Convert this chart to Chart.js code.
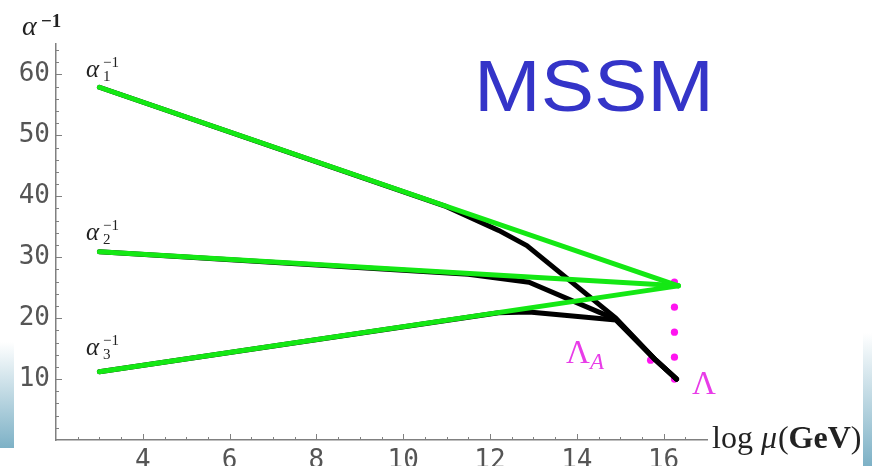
<!DOCTYPE html>
<html>
<head>
<meta charset="utf-8">
<script src="https://cdn.jsdelivr.net/npm/chart.js@4/dist/chart.umd.min.js"></script>
<style>
  html, body { margin: 0; padding: 0; background: #fff; overflow: hidden; }
  #wrap { position: relative; width: 872px; height: 466px; overflow: hidden; }
  canvas { display: block; }
  .strip { position: absolute; background: linear-gradient(to bottom, #ffffff, #7db1c6); }
</style>
</head>
<body>
<div id="wrap">
  <canvas id="mssm" width="872" height="490"></canvas>
  <div class="strip" style="left:0;top:342px;width:14px;height:106px"></div>
  <div class="strip" style="left:863px;top:333px;width:9px;height:133px"></div>
</div>
<script>
// running couplings, one-loop MSSM (green) and with extra threshold (black)
var muEnds = [3, 16.34];
var inv1Green = [57.9, 25.3];
var inv2Green = [30.9, 25.3];
var inv3Green = [11.2, 25.3];

var mu1Black = [3, 11.0, 12.2, 12.85, 14.9, 15.82, 16.3];
var inv1Black = [57.9, 38.3, 34.4, 31.9, 20.0, 13.1, 10.0];
var mu2Black = [3, 11.5, 12.9, 14.9, 15.82, 16.3];
var inv2Black = [30.9, 27.2, 25.9, 19.8, 13.1, 10.0];
var mu3Black = [3, 12.2, 12.9, 14.9, 15.82, 16.3];
var inv3Black = [11.2, 20.9, 21.0, 19.7, 13.1, 10.0];

var dotMu = [15.7, 16.25, 16.25, 16.25, 16.25, 16.25];
var dotInv = [13.1, 25.9, 21.8, 17.7, 13.6, 10.0];

var xTicks = [4, 6, 8, 10, 12, 14, 16];
var yTicks = [10, 20, 30, 40, 50, 60];

function pts(xs, ys) {
  var out = [];
  for (var i = 0; i < xs.length; i++) out.push({x: xs[i], y: ys[i]});
  return out;
}

var GREEN = '#14e814';
var BLACK = '#000000';

function lineSet(data, color, w, order) {
  return {
    data: data, showLine: true, borderColor: color, backgroundColor: color,
    borderWidth: w, pointRadius: 0, borderJoinStyle: 'round', borderCapStyle: 'round',
    tension: 0, order: order
  };
}

// inward frame ticks + all the math labels
var decor = {
  id: 'decor',
  afterDatasetsDraw: function(chart) {
    var ctx = chart.ctx, xs = chart.scales.x, ys = chart.scales.y;
    ctx.save();
    ctx.strokeStyle = '#808080';
    ctx.lineWidth = 1;
    var v, p, len;
    for (v = 2.5; v < 17; v += 0.5) {
      p = Math.round(xs.getPixelForValue(v)) + 0.5;
      len = (v % 2 === 0) ? 6 : 3;
      ctx.beginPath(); ctx.moveTo(p, ys.bottom); ctx.lineTo(p, ys.bottom - len); ctx.stroke();
    }
    for (v = 2; v <= 64; v += 2) {
      p = Math.round(ys.getPixelForValue(v)) + 0.5;
      len = (v % 10 === 0) ? 6 : 3;
      ctx.beginPath(); ctx.moveTo(xs.left, p); ctx.lineTo(xs.left + len, p); ctx.stroke();
    }

    ctx.textBaseline = 'alphabetic';
    ctx.textAlign = 'left';
    ctx.fillStyle = '#222';
    var serif = '"Liberation Serif", "DejaVu Serif", serif';

    // axis titles
    ctx.font = 'italic 28px ' + serif;
    ctx.fillText('\u03b1', 22, 35);
    ctx.font = 'bold 19px ' + serif;
    ctx.fillText('\u22121', 41, 27);

    ctx.font = '32px ' + serif;
    var x0 = 712;
    ctx.fillText('log', x0, 448);
    x0 += ctx.measureText('log ').width;
    ctx.font = 'italic 32px ' + serif;
    ctx.fillText('\u03bc', x0, 448);
    x0 += ctx.measureText('\u03bc').width + 1;
    ctx.font = '32px ' + serif;
    ctx.fillText('(', x0, 448);
    x0 += ctx.measureText('(').width;
    ctx.font = 'bold 32px ' + serif;
    ctx.fillText('GeV', x0, 448);
    x0 += ctx.measureText('GeV').width;
    ctx.font = '32px ' + serif;
    ctx.fillText(')', x0, 448);

    // curve labels
    var labs = [['1', 77], ['2', 240], ['3', 355]];
    labs.forEach(function(l) {
      ctx.font = 'italic 25px ' + serif;
      ctx.fillText('\u03b1', 86, l[1]);
      ctx.font = '15px ' + serif;
      ctx.fillText('\u22121', 103, l[1] - 10);
      ctx.fillText(l[0], 103, l[1] + 4);
    });

    // scale labels
    ctx.fillStyle = '#e83ce8';
    ctx.font = '33px ' + serif;
    ctx.fillText('\u039b', 566, 363);
    ctx.fillText('\u039b', 692, 394);
    ctx.font = 'italic 23px ' + serif;
    ctx.fillText('A', 590, 369);

    // model name, slightly stretched like the original
    ctx.fillStyle = '#3434c8';
    ctx.font = '72px "Liberation Sans", Arial, sans-serif';
    var w = ctx.measureText('MSSM').width;
    ctx.translate(474, 111);
    ctx.scale(240 / w, 1);
    ctx.fillText('MSSM', 0, 0);
    ctx.restore();
  }
};

var chart = new Chart(document.getElementById('mssm'), {
  type: 'scatter',
  data: {
    datasets: [
      lineSet(pts(muEnds, inv1Green), GREEN, 5, 1),
      lineSet(pts(muEnds, inv2Green), GREEN, 5, 1),
      lineSet(pts(muEnds, inv3Green), GREEN, 5, 1),
      lineSet(pts(mu1Black, inv1Black), BLACK, 5, 2),
      lineSet(pts(mu2Black, inv2Black), BLACK, 5, 2),
      lineSet(pts(mu3Black, inv3Black), BLACK, 5, 2),
      {
        data: pts(dotMu, dotInv), showLine: false, pointRadius: 3.6,
        pointBackgroundColor: '#ff14f0', pointBorderWidth: 0, order: 3
      }
    ]
  },
  options: {
    responsive: false,
    animation: false,
    layout: { padding: { left: 0, right: 165, top: 44, bottom: 0 } },
    plugins: { legend: { display: false }, tooltip: { enabled: false } },
    scales: {
      x: {
        type: 'linear', min: 2, max: 17,
        afterFit: function(s) { s.height = 50; },
        afterBuildTicks: function(s) { s.ticks = xTicks.map(function(v) { return {value: v}; }); },
        grid: { display: false, drawTicks: false },
        border: { display: true, color: '#808080', width: 1.5 },
        ticks: { color: '#555', padding: 6, maxRotation: 0, autoSkip: false,
                 font: { family: '"DejaVu Sans Mono", monospace', size: 26 } }
      },
      y: {
        type: 'linear', min: 0, max: 65,
        afterFit: function(s) { s.width = 56; },
        afterBuildTicks: function(s) { s.ticks = yTicks.map(function(v) { return {value: v}; }); },
        grid: { display: false, drawTicks: false },
        border: { display: true, color: '#808080', width: 1.5 },
        ticks: { color: '#555', padding: 6, autoSkip: false,
                 font: { family: '"DejaVu Sans Mono", monospace', size: 26 } }
      }
    }
  },
  plugins: [decor]
});
</script>
</body>
</html>
